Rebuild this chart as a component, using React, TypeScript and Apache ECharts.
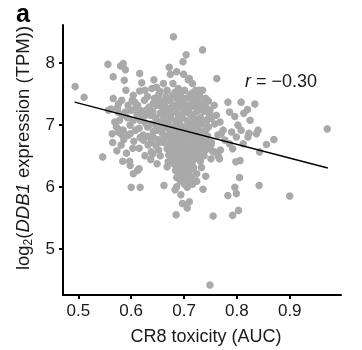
import React, { useEffect, useRef } from 'react';
import * as echarts from 'echarts';

const FONT = '"Liberation Sans", Arial, Helvetica, sans-serif';

const xTicks = [0.5, 0.6, 0.7, 0.8, 0.9];
const yTicks = [5, 6, 7, 8];
const xTitle = 'CR8 toxicity (AUC)';
const rText = ' = −0.30';

// regression line end points [AUC, log2 expression]
const fitLine: [number, number][] = [[0.493, 7.36], [0.972, 6.30]];

// [CR8 AUC, log2(DDB1 TPM)] per cell line
const upperPoints: [number, number][] = [
  [0.680, 8.41], [0.735, 8.20], [0.704, 8.12], [0.698, 8.01], [0.672, 7.92], [0.686, 7.85],
  [0.674, 7.81], [0.699, 7.81], [0.710, 7.74], [0.716, 7.66], [0.762, 7.74], [0.679, 7.66],
  [0.661, 7.66], [0.689, 7.58], [0.666, 7.45], [0.708, 7.72], [0.556, 7.97], [0.580, 7.94],
  [0.585, 7.98], [0.566, 7.77], [0.587, 7.71], [0.589, 7.88], [0.616, 7.82], [0.620, 7.67],
  [0.643, 7.72], [0.590, 7.55], [0.616, 7.54], [0.639, 7.58], [0.655, 7.53], [0.494, 7.61],
  [0.511, 7.44], [0.648, 7.60], [0.626, 7.55],
];

const leftPoints: [number, number][] = [
  [0.566, 7.42], [0.582, 7.39], [0.604, 7.47], [0.607, 7.36], [0.557, 7.23], [0.575, 7.20],
  [0.600, 7.23], [0.574, 7.27], [0.562, 7.25], [0.631, 7.45], [0.642, 7.34], [0.628, 7.23],
  [0.617, 7.23], [0.589, 7.20], [0.578, 7.07], [0.569, 7.04], [0.572, 6.96], [0.579, 6.91],
  [0.585, 6.91], [0.604, 7.07], [0.608, 6.91], [0.595, 6.83], [0.631, 6.96], [0.623, 6.83],
  [0.617, 7.07], [0.648, 7.07], [0.655, 7.18], [0.667, 7.26], [0.612, 7.31], [0.623, 7.12],
  [0.634, 7.28], [0.611, 7.16], [0.593, 7.11], [0.598, 6.99], [0.615, 6.94], [0.627, 7.02],
  [0.642, 6.89], [0.632, 6.81], [0.605, 6.73], [0.647, 6.66], [0.615, 6.62], [0.583, 7.15],
  [0.602, 7.39], [0.625, 7.39], [0.576, 7.33], [0.648, 6.98], [0.655, 7.31],
  [0.546, 6.48], [0.565, 6.71], [0.581, 6.67], [0.584, 6.41], [0.597, 6.41], [0.598, 6.34],
  [0.591, 6.54], [0.604, 6.21], [0.612, 6.26], [0.615, 6.29], [0.600, 5.99], [0.617, 5.99],
  [0.626, 6.50], [0.638, 6.56], [0.652, 6.59], [0.655, 6.50], [0.641, 6.80], [0.670, 6.40],
  [0.668, 6.32], [0.598, 6.85], [0.617, 6.79], [0.564, 6.85], [0.576, 6.88], [0.582, 6.84],
  [0.641, 6.53], [0.623, 6.75], [0.632, 6.67], [0.638, 6.72], [0.673, 6.64], [0.676, 6.72],
  [0.609, 7.27], [0.594, 7.31], [0.621, 7.19], [0.637, 7.15], [0.603, 6.62], [0.586, 6.76],
  [0.573, 6.58], [0.637, 6.44], [0.649, 6.37],
];

const corePoints: [number, number][] = [
  [0.668, 7.55], [0.701, 7.55], [0.722, 7.55], [0.735, 7.55], [0.683, 7.52], [0.716, 7.51],
  [0.652, 7.48], [0.679, 7.48], [0.693, 7.48], [0.711, 7.48], [0.728, 7.48],
  [0.644, 7.42], [0.687, 7.42], [0.702, 7.42], [0.719, 7.42], [0.741, 7.42], [0.651, 7.42],
  [0.659, 7.38], [0.674, 7.38], [0.697, 7.38], [0.714, 7.38], [0.726, 7.38], [0.662, 7.36],
  [0.648, 7.31], [0.663, 7.31], [0.684, 7.31], [0.705, 7.31], [0.719, 7.31], [0.733, 7.31], [0.757, 7.31],
  [0.676, 7.27], [0.694, 7.27], [0.711, 7.27], [0.742, 7.27], [0.693, 7.33], [0.729, 7.26],
  [0.641, 7.21], [0.659, 7.21], [0.683, 7.21], [0.701, 7.21], [0.724, 7.21], [0.737, 7.21],
  [0.668, 7.16], [0.689, 7.16], [0.713, 7.16], [0.748, 7.16], [0.631, 7.16], [0.676, 7.19], [0.708, 7.19],
  [0.646, 7.11], [0.675, 7.11], [0.697, 7.11], [0.718, 7.11], [0.731, 7.11], [0.661, 7.13],
  [0.661, 7.06], [0.684, 7.06], [0.706, 7.06], [0.724, 7.06], [0.743, 7.06], [0.667, 7.04], [0.689, 7.07],
  [0.637, 7.01], [0.652, 7.01], [0.671, 7.01], [0.692, 7.01], [0.713, 7.01], [0.735, 7.01], [0.758, 7.01],
  [0.664, 6.96], [0.681, 6.96], [0.702, 6.96], [0.721, 6.96], [0.746, 6.96], [0.727, 7.01],
  [0.648, 6.91], [0.673, 6.91], [0.689, 6.91], [0.711, 6.91], [0.729, 6.91], [0.741, 6.91],
  [0.656, 6.91], [0.709, 6.93], [0.695, 6.92],
  [0.659, 6.86], [0.681, 6.86], [0.698, 6.86], [0.718, 6.86], [0.733, 6.86], [0.676, 6.85],
  [0.667, 6.81], [0.687, 6.81], [0.706, 6.81], [0.724, 6.81], [0.745, 6.81], [0.726, 6.83], [0.662, 6.80],
  [0.651, 6.76], [0.676, 6.76], [0.694, 6.76], [0.713, 6.76], [0.731, 6.76], [0.741, 6.76],
  [0.663, 6.71], [0.684, 6.71], [0.702, 6.71], [0.719, 6.71], [0.737, 6.71], [0.752, 6.71],
  [0.712, 6.73], [0.727, 6.74], [0.657, 6.72],
  [0.691, 6.66], [0.709, 6.66], [0.727, 6.66], [0.678, 6.66], [0.689, 6.69], [0.745, 6.66],
  [0.668, 6.61], [0.683, 6.61], [0.698, 6.61], [0.716, 6.61], [0.733, 6.61], [0.720, 6.60],
  [0.676, 6.56], [0.692, 6.56], [0.707, 6.56], [0.724, 6.56], [0.684, 6.57],
  [0.686, 6.51], [0.699, 6.51], [0.714, 6.51], [0.729, 6.51], [0.671, 6.51],
  [0.679, 6.46], [0.693, 6.46], [0.708, 6.46], [0.722, 6.46],
  [0.687, 6.41], [0.701, 6.41], [0.716, 6.41], [0.731, 6.41],
  [0.681, 6.36], [0.694, 6.36], [0.709, 6.36],
  [0.688, 6.31], [0.703, 6.31], [0.718, 6.31], [0.733, 6.31],
  [0.697, 6.26], [0.712, 6.26], [0.684, 6.26],
  [0.691, 6.21], [0.706, 6.21], [0.724, 6.21],
  [0.699, 6.15], [0.714, 6.15], [0.686, 6.15],
  [0.693, 6.09], [0.709, 6.09], [0.724, 6.09],
  [0.701, 6.04], [0.716, 6.04],
];

const rightPoints: [number, number][] = [
  [0.783, 7.36], [0.808, 7.36], [0.834, 7.33], [0.786, 7.20], [0.796, 7.13], [0.813, 7.18],
  [0.820, 7.24], [0.825, 7.07], [0.802, 6.99], [0.808, 6.91], [0.821, 6.80], [0.799, 6.80],
  [0.770, 6.85], [0.777, 6.75], [0.786, 6.69], [0.792, 6.61], [0.751, 6.67], [0.758, 6.56],
  [0.767, 6.45], [0.751, 6.45], [0.749, 7.23], [0.736, 7.34], [0.752, 7.10], [0.768, 7.04],
  [0.774, 6.91], [0.790, 6.88], [0.840, 6.91], [0.837, 6.85], [0.823, 6.86], [0.812, 6.69],
  [0.843, 6.56], [0.856, 6.68], [0.870, 6.76], [0.971, 6.93], [0.806, 6.42], [0.798, 6.40],
  [0.764, 6.83], [0.769, 6.59], [0.765, 6.49], [0.754, 6.57], [0.738, 6.50], [0.742, 6.60],
  [0.729, 7.55], [0.730, 7.45], [0.744, 7.08], [0.761, 7.15], [0.746, 7.38],
];

const lowerPoints: [number, number][] = [
  [0.662, 6.02], [0.686, 6.00], [0.706, 5.99], [0.736, 5.96], [0.694, 5.87], [0.683, 5.95],
  [0.842, 6.02], [0.900, 5.85], [0.710, 5.76], [0.697, 5.73], [0.706, 5.66], [0.803, 5.62],
  [0.685, 5.55], [0.755, 5.53], [0.792, 5.54], [0.749, 4.42], [0.741, 6.17], [0.805, 6.15],
  [0.796, 5.99], [0.799, 5.89], [0.783, 5.86],
];

export default function App() {
  const ref = useRef<HTMLDivElement>(null);
  useEffect(() => {
    const chart = echarts.init(ref.current!, null, { renderer: 'svg' });
    const allPoints = [...upperPoints, ...leftPoints, ...corePoints, ...rightPoints, ...lowerPoints];
    const ink = '#1a1a1a';
    chart.setOption({
      animation: false,
      textStyle: { fontFamily: FONT },
      grid: { left: 63, right: 21, top: 25, bottom: 55 },
      xAxis: {
        type: 'value',
        min: 0.471,
        max: 0.997,
        axisLine: { show: true, lineStyle: { color: '#000', width: 2 } },
        axisTick: { show: true, length: 4, customValues: xTicks, lineStyle: { color: '#000', width: 2 } },
        axisLabel: {
          customValues: xTicks,
          fontSize: 17,
          fontFamily: FONT,
          color: ink,
          margin: 7,
          formatter: (v: number) => v.toFixed(1),
        },
        splitLine: { show: false },
        name: xTitle,
        nameLocation: 'middle',
        nameGap: 32,
        nameTextStyle: { fontSize: 18, fontFamily: FONT, color: ink, padding: [0, 0, 0, 8] },
      },
      yAxis: {
        type: 'value',
        min: 4.26,
        max: 8.6,
        axisLine: { show: true, lineStyle: { color: '#000', width: 2 } },
        axisTick: { show: true, length: 4, customValues: yTicks, lineStyle: { color: '#000', width: 2 } },
        axisLabel: {
          customValues: yTicks,
          fontSize: 17,
          fontFamily: FONT,
          color: ink,
          margin: 8,
          formatter: (v: number) => String(Math.round(v)),
        },
        splitLine: { show: false },
      },
      graphic: [
        {
          type: 'text',
          x: 16,
          y: 12.5,
          style: { text: 'a', fontSize: 25, fontWeight: 'bold', fontFamily: FONT, fill: '#000', verticalAlign: 'middle', align: 'left' },
        },
        {
          type: 'text',
          x: 245,
          y: 81,
          style: {
            text: '{i|r}{n|' + rText + '}',
            rich: {
              i: { fontSize: 18, fontStyle: 'italic', fontFamily: FONT, fill: ink },
              n: { fontSize: 18, fontFamily: FONT, fill: ink },
            },
            align: 'left',
            verticalAlign: 'middle',
          },
        },
        {
          type: 'text',
          x: 23,
          y: 148,
          rotation: Math.PI / 2,
          style: {
            text: '{n|log}{s|2}{n|(}{i|DDB1}{n| expression (TPM))}',
            rich: {
              n: { fontSize: 18.5, fontFamily: FONT, fill: ink, verticalAlign: 'top' },
              i: { fontSize: 18.5, fontFamily: FONT, fontStyle: 'italic', fill: ink, verticalAlign: 'top' },
              s: { fontSize: 12, fontFamily: FONT, fill: ink, verticalAlign: 'top', padding: [9, 0, 0, 0] },
            },
            align: 'center',
            verticalAlign: 'middle',
          },
        },
      ],
      series: [
        {
          type: 'scatter',
          data: allPoints,
          symbolSize: 7.5,
          itemStyle: { color: '#a9a9a9', opacity: 1 },
          silent: true,
        },
        {
          type: 'line',
          data: fitLine,
          symbol: 'none',
          lineStyle: { color: '#000', width: 1.5 },
          silent: true,
        },
      ],
    });
    return () => chart.dispose();
  }, []);
  return <div ref={ref} style={{ position: 'fixed', left: 0, top: 0, width: 362, height: 350 }} />;
}
